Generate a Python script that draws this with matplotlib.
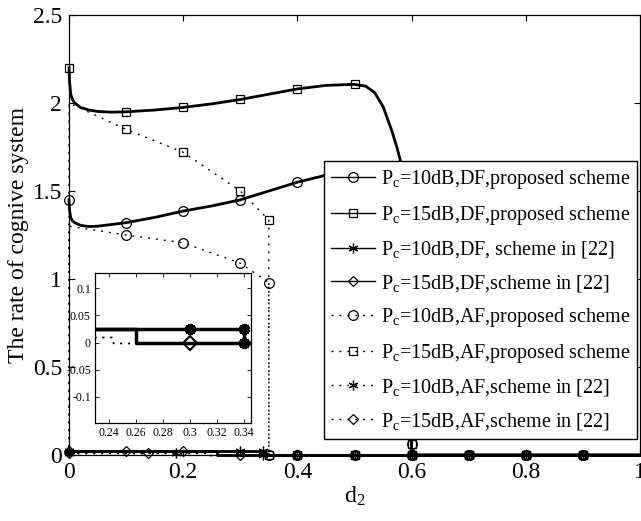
import numpy as np
import matplotlib
matplotlib.use("Agg")
import matplotlib.pyplot as plt

plt.rcParams["font.family"] = "Liberation Serif"
plt.rcParams["mathtext.fontset"] = "custom"
plt.rcParams["mathtext.rm"] = "Liberation Serif"
plt.rcParams["mathtext.it"] = "Liberation Serif:italic"

# ---- values ----
# Pc=10dB, DF, proposed
df10_x = [0, 0.001, 0.003, 0.006, 0.01, 0.02, 0.035, 0.05, 0.075, 0.1, 0.15, 0.2, 0.25, 0.3, 0.35,
          0.4, 0.45, 0.5, 0.54, 0.565, 0.58, 0.59, 0.595, 0.6, 0.6, 0.7, 0.8, 0.9, 1.0]
df10_y = [1.45, 1.39, 1.35, 1.33, 1.32, 1.305, 1.298, 1.30, 1.31, 1.32, 1.35, 1.386, 1.415, 1.45, 1.50,
          1.55, 1.59, 1.62, 1.60, 1.50, 1.30, 1.00, 0.60, 0.06, 0, 0, 0, 0, 0]
# Pc=15dB, DF, proposed
df15_x = [0, 0.001, 0.003, 0.006, 0.01, 0.02, 0.035, 0.05, 0.075, 0.1, 0.15, 0.2, 0.25, 0.3, 0.35,
          0.4, 0.45, 0.5, 0.52, 0.535, 0.55, 0.565, 0.575, 0.58, 0.59, 0.595, 0.598, 0.6, 0.6,
          0.7, 0.8, 0.9, 1.0]
df15_y = [2.2, 2.12, 2.05, 2.02, 2.0, 1.975, 1.96, 1.952, 1.948, 1.95, 1.96, 1.975, 1.995, 2.02, 2.05,
          2.08, 2.10, 2.106, 2.095, 2.06, 1.98, 1.846, 1.74, 1.676, 1.30, 0.90, 0.40, 0.06, 0,
          0, 0, 0, 0]
# Pc=10dB / 15dB, DF, scheme in [22]
df10r_x = [0, 0.3, 0.34, 0.34, 0.4, 0.5, 0.6, 0.7, 0.8, 0.9, 1.0]
df10r_y = [0.025, 0.025, 0.025, 0, 0, 0, 0, 0, 0, 0, 0]
df15r_x = [0, 0.1, 0.2, 0.26, 0.26, 0.3, 0.4, 0.5, 0.6, 0.7, 0.8, 0.9, 1.0]
df15r_y = [0.025, 0.025, 0.025, 0.025, 0, 0, 0, 0, 0, 0, 0, 0, 0]
# Pc=10dB / 15dB, AF, proposed
af10_x = [0, 0, 0.1, 0.2, 0.3, 0.35, 0.35, 0.4, 0.5, 0.6, 0.7, 0.8, 0.9, 1.0]
af10_y = [0, 1.30, 1.25, 1.206, 1.09, 0.98, 0, 0, 0, 0, 0, 0, 0, 0]
af15_x = [0, 0, 0.1, 0.2, 0.3, 0.35, 0.35, 0.4, 0.5, 0.6, 0.7, 0.8, 0.9, 1.0]
af15_y = [0, 2.0, 1.85, 1.72, 1.50, 1.335, 0, 0, 0, 0, 0, 0, 0, 0]
# Pc=10dB / 15dB, AF, scheme in [22]
af10r_x = [0, 0.187, 0.243, 0.243, 0.4, 0.5, 0.6, 0.7, 0.8, 0.9, 1.0]
af10r_y = [0.01, 0.01, 0.01, 0, 0, 0, 0, 0, 0, 0, 0]
af15r_x = [0, 0.138, 0.243, 0.243, 0.4, 0.5, 0.6, 0.7, 0.8, 0.9, 1.0]
af15r_y = [0.01, 0.01, 0.01, 0, 0, 0, 0, 0, 0, 0, 0]

grid_marks = [0, 0.1, 0.2, 0.3, 0.4, 0.5, 0.6, 0.7, 0.8, 0.9]

labels = [r"P$_\mathrm{c}$=10dB,DF,proposed scheme",
          r"P$_\mathrm{c}$=15dB,DF,proposed scheme",
          r"P$_\mathrm{c}$=10dB,DF, scheme in [22]",
          r"P$_\mathrm{c}$=15dB,DF,scheme in [22]",
          r"P$_\mathrm{c}$=10dB,AF,proposed scheme",
          r"P$_\mathrm{c}$=15dB,AF,proposed scheme",
          r"P$_\mathrm{c}$=10dB,AF,scheme in [22]",
          r"P$_\mathrm{c}$=15dB,AF,scheme in [22]"]

xticks = [0, 0.2, 0.4, 0.6, 0.8, 1]
xticklabels = ["0", "0.2", "0.4", "0.6", "0.8", "1"]
yticks = [0, 0.5, 1, 1.5, 2, 2.5]
yticklabels = ["0", "0.5", "1", "1.5", "2", "2.5"]
in_xticks = [0.24, 0.26, 0.28, 0.3, 0.32, 0.34]
in_xticklabels = ["0.24", "0.26", "0.28", "0.3", "0.32", "0.34"]
in_yticks = [-0.1, -0.05, 0, 0.05, 0.1]
in_yticklabels = ["-0.1", "-0.05", "0", "0.05", "0.1"]


def idx(xs, marks):
    out = []
    for m in marks:
        out += [i for i, x in enumerate(xs) if x == m]
    return sorted(out)


AST = (6, 2, 0)   # matlab-like asterisk
DOT = (0, (1.4, 4.3))

series = [
    (df10_x, df10_y, "o", "-", grid_marks, 7.0),
    (df15_x, df15_y, "s", "-", grid_marks, 6.0),
    (df10r_x, df10r_y, AST, "-", [0, 0.3, 0.34] + grid_marks[4:], 7.0),
    (df15r_x, df15r_y, "D", "-", grid_marks, 5.0),
    (af10_x, af10_y, "o", DOT, [0.1, 0.2, 0.3, 0.35] + grid_marks[4:], 7.0),
    (af15_x, af15_y, "s", DOT, [0.1, 0.2, 0.3, 0.35] + grid_marks[4:], 6.0),
    (af10r_x, af10r_y, AST, DOT, [0, 0.187] + grid_marks[4:], 7.0),
    (af15r_x, af15r_y, "D", DOT, [0, 0.138] + grid_marks[4:], 5.0),
]

fig = plt.figure(figsize=(6.41, 5.21), dpi=100)
ax = fig.add_axes([69 / 641, 1 - 455 / 521, 571 / 641, 440 / 521])

for (xs, ys, mk, ls, marks, ms), lab in zip(series, labels):
    solid = ls == "-"
    ax.plot(xs, ys, color="k", linestyle=ls, linewidth=2.0 if solid else 1.0,
            marker=mk, markersize=ms, markerfacecolor="none", markeredgecolor="k",
            markeredgewidth=0.9, markevery=idx(xs, marks), clip_on=False, label=lab)

ax.set_xlim(0, 1)
ax.set_ylim(0, 2.5)
ax.set_xticks(xticks)
ax.set_xticklabels(xticklabels)
ax.set_yticks(yticks)
ax.set_yticklabels(yticklabels)
ax.tick_params(direction="in", length=4, width=0.8, labelsize=17, pad=5,
               top=True, right=True)
for s in ax.spines.values():
    s.set_linewidth(0.9)
ax.set_xlabel(r"d$_\mathrm{2}$", fontsize=17, labelpad=1)
ax.set_ylabel("The rate of cognive system", fontsize=17, labelpad=3)

leg = ax.legend(loc="upper right", bbox_to_anchor=(0.995, 0.668), borderaxespad=0,
                fontsize=14.5, handlelength=2.15, handletextpad=0.3, borderpad=0.35,
                labelspacing=0.62, numpoints=1, fancybox=False, framealpha=1,
                edgecolor="k")
leg.get_frame().set_linewidth(1.0)
for ln in leg.get_lines():
    ln.set_linewidth(1.0)

# ---- zoomed inset ----
axi = fig.add_axes([95 / 641, 1 - 423 / 521, 156 / 641, 150 / 521])
for (xs, ys, mk, ls, marks, ms) in series[2:4] + series[6:8]:
    solid = ls == "-"
    filled = mk == AST
    axi.plot(xs, ys, color="k", linestyle=ls, linewidth=2.5 if solid else 1.0,
             marker=mk, markersize=8 if filled else 7,
             markerfacecolor="k" if filled else "none", markeredgecolor="k",
             markeredgewidth=3 if filled else 1.5, markevery=idx(xs, marks))
axi.set_xlim(0.23, 0.345)
axi.set_ylim(-0.148, 0.128)
axi.set_xticks(in_xticks)
axi.set_xticklabels(in_xticklabels)
axi.set_yticks(in_yticks)
axi.set_yticklabels(in_yticklabels)
axi.tick_params(direction="in", length=3, width=0.6, labelsize=8.5, pad=3,
                top=True, right=True)
for s in axi.spines.values():
    s.set_linewidth(0.9)

fig.savefig("out.png", dpi=100)
